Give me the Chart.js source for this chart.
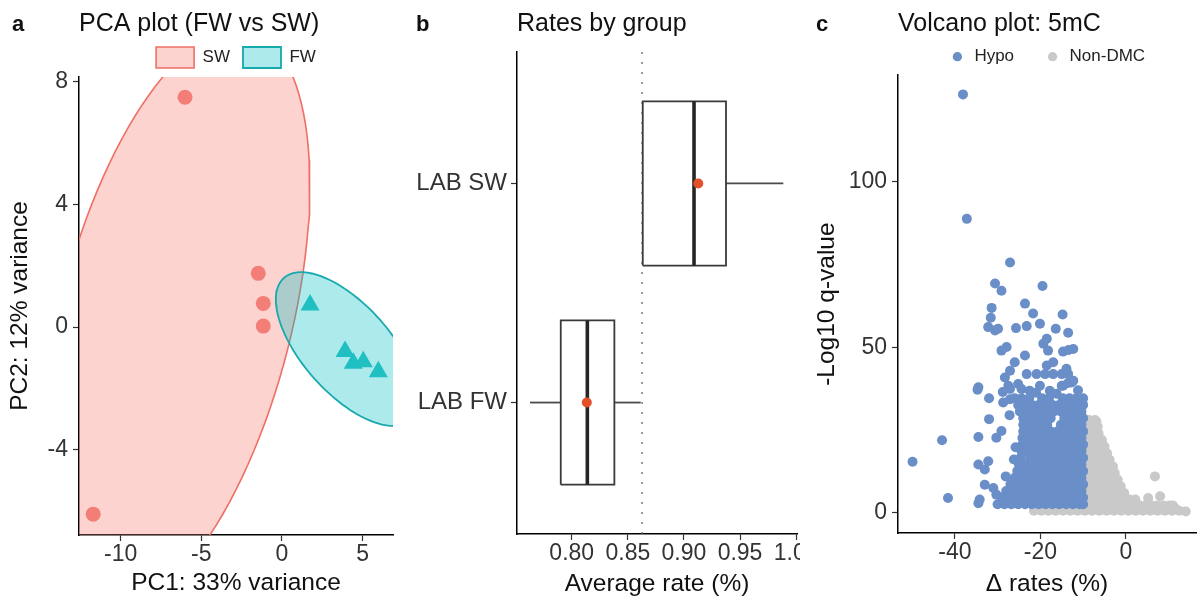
<!DOCTYPE html>
<html>
<head>
<meta charset="utf-8">
<script src="https://cdn.jsdelivr.net/npm/chart.js@4.4.1/dist/chart.umd.min.js"></script>
<style>
  html, body { margin: 0; padding: 0; background: #fff; }
  body { width: 1198px; height: 599px; position: relative; overflow: hidden; font-family: 'Liberation Sans', Arial, sans-serif; }
  .panel { position: absolute; top: 0; height: 599px; overflow: hidden; }
  .panel canvas { display: block; }
  .tag { position: absolute; top: 13px; font-size: 22px; line-height: 22px; font-weight: bold; color: #111; }
</style>
</head>
<body>
<div class="panel" style="left:0;width:400px"><canvas id="pca" width="400" height="599"></canvas></div>
<div class="panel" style="left:400px;width:400px"><canvas id="box" width="430" height="599"></canvas></div>
<div class="panel" style="left:800px;width:398px"><canvas id="volcano" width="398" height="599"></canvas></div>
<div class="tag" style="left:12px">a</div>
<div class="tag" style="left:416px">b</div>
<div class="tag" style="left:816px">c</div>

<script>
// ---- panel a: PCA ----
const swPC1 = [-6.01, -1.47, -1.16, -1.16, -11.70];
const swPC2 = [7.49, 1.75, 0.77, 0.03, -6.10];
const fwPC1 = [1.74, 3.91, 4.42, 5.04, 5.97];
const fwPC2 = [0.72, -0.80, -1.18, -1.13, -1.46];
// ellipse: centre + two conjugate half-axes (data units)
const swEllipseCenter = [-6.59, 0.21];
const swEllipseAxes = [[4.575, 9.449], [6.944, -0.929]];
const fwEllipseCenter = [4.03, -0.717];
const fwEllipseAxes = [[3.912, -2.315], [2.040, 0.955]];
const pcaXTicks = [-10, -5, 0, 5];
const pcaYTicks = [-4, 0, 4, 8];

// ---- panel b: box plot ----
const boxGroups = ['LAB FW', 'LAB SW'];
const boxLow = [0.7628, 0.8633];
const boxQ1 = [0.7902, 0.8633];
const boxMedian = [0.8139, 0.9090];
const boxQ3 = [0.8380, 0.9375];
const boxHigh = [0.8615, 0.9886];
const boxMean = [0.8134, 0.9128];
const boxRefLine = 0.8627;
const boxXTicks = [0.80, 0.85, 0.90, 0.95, 1.00];

// ---- panel c: volcano ----
const hypoScatter = [
  [-38.1,126.4],[-37.2,88.8],
  [-27.1,75.6],[-30.6,69.3],[-29.1,67.1],[-19.5,68.5],
  [-31.4,61.9],[-23.6,63.2],[-21.7,60.2],[-14.8,59.9],[-31.6,58.9],
  [-32.2,56.1],[-30.6,55.1],[-29.9,55.6],[-25.7,55.8],[-23.2,56.4],[-20.1,57.1],[-16.4,55.6],[-13.5,54.4],
  [-18.5,52.6],[-19.3,51.1],[-27.9,50.1],[-29.1,49.0],[-23.6,47.5],[-18.2,49.0],[-14.7,48.7],[-12.3,49.5],[-13.4,49.2],
  [-26.0,45.5],[-27.1,42.9],[-28.3,40.9],[-18.5,44.5],[-17.0,45.5],[-13.9,43.5],
  [-23.2,41.9],[-20.9,41.9],[-18.9,41.9],[-17.0,41.9],[-15.0,41.9],[-13.5,41.9],
  [-12.3,39.9],[-15.0,38.4],[-13.5,39.2],[-34.5,37.9],[-27.5,38.4],[-25.2,38.9],
  [-34.7,37.2],[-32.0,34.6],[-28.8,36.5],[-27.1,37.4],[-24.4,37.4],[-22.5,36.9],[-20.1,38.4],[-17.8,36.9],[-14.7,38.4],[-12.7,39.4],[-11.2,37.0],
  [-28.7,33.3],[-27.1,34.3],[-32.0,28.3],[-29.1,24.7],[-30.3,22.7],[-34.5,22.9],[-43.0,21.9],[-49.9,15.4],
  [-34.5,14.6],[-32.2,15.6],[-33.0,13.1],[-28.1,11.0],[-33.0,8.5],[-31.0,7.5],[-30.3,5.5],[-41.6,4.5],[-34.5,2.9],[-34.2,4.0],
  [-27.2,29.5],[-26.2,16.1],[-25.8,19.8],[-21.0,36.3],[-16.2,36.0]
];
// dense core of the hypo cloud, one row per -log10 q level
const hypoRows = [
  [34.6, [-26.0,-24.4,-22.6,-19.6,-18.0,-14.8,-13.2,-11.6,-10.0]],
  [32.6, [-25.2,-23.6,-22.0,-20.4,-18.8,-17.2,-15.6,-14.0,-12.4,-10.8,-10.0]],
  [30.6, [-24.8,-23.2,-21.6,-20.0,-18.4,-16.8,-15.2,-13.6,-12.0,-10.4]],
  [28.6, [-24.0,-22.4,-20.8,-19.2,-17.6,-14.4,-12.8,-11.2,-10.0]],
  [26.6, [-24.0,-22.4,-20.8,-19.2,-18.4,-15.2,-13.6,-12.0,-10.4]],
  [24.6, [-24.0,-22.4,-20.8,-19.2,-17.6,-16.0,-14.4,-12.8,-11.2,-10.0]],
  [22.6, [-24.2,-23.2,-21.6,-20.0,-18.4,-16.8,-15.2,-13.6,-12.0,-10.4]],
  [20.6, [-24.2,-22.4,-20.8,-19.2,-17.6,-16.0,-14.4,-12.8,-11.2,-10.0]],
  [18.6, [-24.4,-23.2,-21.6,-20.0,-18.4,-16.8,-15.2,-13.6,-12.0,-10.4]],
  [16.6, [-24.6,-22.4,-20.8,-19.2,-17.6,-16.0,-14.4,-12.8,-11.2,-10.0]],
  [14.6, [-25.0,-23.2,-21.6,-20.0,-18.4,-16.8,-15.2,-13.6,-12.0,-10.4]],
  [12.6, [-25.4,-24.0,-22.4,-20.8,-19.2,-17.6,-16.0,-14.4,-12.8,-11.2,-10.0]],
  [10.6, [-26.0,-24.8,-23.2,-21.6,-20.0,-18.4,-16.8,-15.2,-13.6,-12.0,-10.4]],
  [8.6,  [-27.0,-25.6,-24.0,-22.4,-20.8,-19.2,-17.6,-16.0,-14.4,-12.8,-11.2,-10.0]],
  [6.6,  [-28.0,-26.4,-24.8,-23.2,-21.6,-20.0,-18.4,-16.8,-15.2,-13.6,-12.0,-10.4]],
  [4.6,  [-29.0,-27.2,-25.6,-24.0,-22.4,-20.8,-19.2,-17.6,-16.0,-14.4,-12.8,-11.2,-10.0]],
  [2.6,  [-30.0,-28.4,-26.8,-25.2,-23.6,-22.0,-20.4,-18.8,-17.2,-15.6,-14.0,-12.4,-10.8,-10.0]]
];
const nonDmcScatter = [[6.8,11.0],[5.2,4.5],[8.0,5.0],[11.5,1.4],[14.0,0.4],[-6.9,27.6]];
const nonDmcRows = [
  [28.0, [-8.6,-7.2]],
  [26.0, [-9.4,-8.0,-6.6]],
  [24.0, [-8.8,-7.4,-6.4]],
  [22.0, [-9.4,-8.0,-6.6,-5.6]],
  [20.0, [-8.8,-7.4,-6.0,-5.0]],
  [18.0, [-9.4,-8.0,-6.6,-5.2,-4.4]],
  [16.0, [-8.8,-7.4,-6.0,-4.6,-3.8]],
  [14.0, [-9.4,-8.0,-6.6,-5.2,-3.8,-3.0]],
  [12.0, [-8.8,-7.4,-6.0,-4.6,-3.2,-2.6]],
  [10.0, [-9.4,-8.0,-6.6,-5.2,-3.8,-2.4,-1.9]],
  [8.0,  [-8.8,-7.4,-6.0,-4.6,-3.2,-1.8,-1.2]],
  [6.0,  [-9.4,-8.0,-6.6,-5.2,-3.8,-2.4,-1.0,-0.4]],
  [4.0,  [-8.8,-7.4,-6.0,-4.6,-3.2,-1.8,-0.4,0.8,2.2]],
  [2.2,  [-9.4,-8.0,-6.6,-5.2,-3.8,-2.4,-1.0,0.4,1.8,3.2,4.6,6.0,7.4,8.8,10.2,11.0]],
  [0.6,  [-21.5,-19.8,-18.1,-16.4,-14.7,-13.0,-11.3,-9.6,-7.9,-6.2,-4.5,-2.8,-1.1,0.6,2.3,4.0,5.7,7.4,9.1,10.8,12.5]]
];
const volcXTicks = [-40, -20, 0];
const volcYTicks = [0, 50, 100];

// ---------------------------------------------------------------
Chart.defaults.font.family = "'Liberation Sans', Arial, sans-serif";
Chart.defaults.color = '#333';

const BASE = { responsive: false, animation: false, devicePixelRatio: 1, events: [] };

function axis(o) {
  return {
    type: 'linear',
    min: o.min,
    max: o.max,
    afterBuildTicks: s => { s.ticks = o.ticks.map(v => ({ value: v })); },
    afterFit: s => {
      if (o.width != null) s.width = o.width;
      if (o.height != null) s.height = o.height;
    },
    border: { display: true, color: '#000', width: 1.5 },
    grid: { display: true, drawOnChartArea: false, drawTicks: true, tickLength: 6, tickWidth: 1.2, tickColor: '#333' },
    ticks: {
      color: '#333', padding: o.tickPad, autoSkip: false, maxRotation: 0,
      font: { size: o.tickSize || 23, lineHeight: 1 },
      callback: o.fmt || (v => String(v))
    },
    title: o.title
      ? { display: true, text: o.title, color: '#111', font: { size: 24.5 }, padding: o.titlePad }
      : { display: false }
  };
}

function panelTitle(text, pad) {
  return { display: true, text: text, align: 'start', fullSize: false, color: '#111',
           font: { size: 25, weight: 'normal', lineHeight: 1.1 }, padding: pad };
}

function ellipsePoints(center, axes) {
  const pts = [];
  for (let i = 0; i <= 120; i++) {
    const t = 2 * Math.PI * i / 120;
    pts.push({
      x: center[0] + axes[0][0] * Math.cos(t) + axes[1][0] * Math.sin(t),
      y: center[1] + axes[0][1] * Math.cos(t) + axes[1][1] * Math.sin(t)
    });
  }
  return pts;
}

const zipXY = (xs, ys) => xs.map((x, i) => ({ x: x, y: ys[i] }));
const pairs = list => list.map(p => ({ x: p[0], y: p[1] }));
const rows = list => list.flatMap(r => r[1].map(x => ({ x: x, y: r[0] })));

// ---- panel a ----
new Chart(document.getElementById('pca'), {
  type: 'scatter',
  data: {
    datasets: [
      { label: 'SW points', data: zipXY(swPC1, swPC2), backgroundColor: '#F37E77',
        pointRadius: 7.5, pointBorderWidth: 0, borderWidth: 0 },
      { label: 'FW points', data: zipXY(fwPC1, fwPC2), backgroundColor: '#1FBFC2',
        pointStyle: 'triangle', pointRadius: 11, pointBorderWidth: 0, borderWidth: 0 },
      { label: 'FW', data: ellipsePoints(fwEllipseCenter, fwEllipseAxes), showLine: true, fill: 'shape',
        backgroundColor: 'rgba(0,191,196,0.32)', borderColor: '#16A9AD', borderWidth: 1.8,
        pointRadius: 0, tension: 0 },
      { label: 'SW', data: ellipsePoints(swEllipseCenter, swEllipseAxes), showLine: true, fill: 'shape',
        backgroundColor: 'rgba(248,118,109,0.32)', borderColor: '#EE6F66', borderWidth: 1.6,
        pointRadius: 0, tension: 0 }
    ]
  },
  options: Object.assign({}, BASE, {
    layout: { autoPadding: false, padding: { left: 0, right: 7, top: 0, bottom: 0 } },
    scales: {
      x: axis({ min: -12.58, max: 6.88, ticks: pcaXTicks, height: 64, tickPad: 2,
                title: 'PC1: 33% variance', titlePad: { top: 0, bottom: 1.3 } }),
      y: axis({ min: -6.78, max: 8.15, ticks: pcaYTicks, width: 79, tickPad: 5,
                title: 'PC2: 12% variance', titlePad: { top: 5.3, bottom: 0 } })
    },
    plugins: {
      title: panelTitle('PCA plot (FW vs SW)', { top: 10.8, bottom: -4.3 }),
      legend: {
        position: 'top', fullSize: false, align: 'center', maxHeight: 43,
        labels: {
          boxWidth: 38, boxHeight: 21, padding: 13, color: '#222', font: { size: 17 },
          filter: item => item.text === 'SW' || item.text === 'FW',
          sort: (a, b) => b.datasetIndex - a.datasetIndex
        }
      },
      tooltip: { enabled: false }
    }
  })
});

// ---- panel b ----
const boxDatasets = [];
const HALF = 0.375;
boxDatasets.push({ data: boxMean.map((m, i) => ({ x: m, y: i + 1 })), backgroundColor: '#E4502C',
                   pointRadius: 5, pointBorderWidth: 0, borderWidth: 0 });
boxGroups.forEach((g, i) => {
  const c = i + 1;
  boxDatasets.push({ data: [{ x: boxMedian[i], y: c - HALF }, { x: boxMedian[i], y: c + HALF }],
                     showLine: true, borderColor: '#262626', borderWidth: 3.6, pointRadius: 0 });
  boxDatasets.push({ data: [{ x: boxQ1[i], y: c - HALF }, { x: boxQ3[i], y: c - HALF }, { x: boxQ3[i], y: c + HALF },
                            { x: boxQ1[i], y: c + HALF }, { x: boxQ1[i], y: c - HALF }],
                     showLine: true, borderColor: '#3a3a3a', borderWidth: 1.8, pointRadius: 0,
                     borderJoinStyle: 'miter' });
  if (boxLow[i] < boxQ1[i]) {
    boxDatasets.push({ data: [{ x: boxLow[i], y: c }, { x: boxQ1[i], y: c }],
                       showLine: true, borderColor: '#4a4a4a', borderWidth: 1.8, pointRadius: 0 });
  }
  boxDatasets.push({ data: [{ x: boxQ3[i], y: c }, { x: boxHigh[i], y: c }],
                     showLine: true, borderColor: '#4a4a4a', borderWidth: 1.8, pointRadius: 0 });
});
boxDatasets.push({ data: [{ x: boxRefLine, y: 0.4 }, { x: boxRefLine, y: 2.6 }], showLine: true,
                   borderColor: '#666', borderWidth: 1.3, borderDash: [2, 8], pointRadius: 0 });

new Chart(document.getElementById('box'), {
  type: 'scatter',
  data: { datasets: boxDatasets },
  options: Object.assign({}, BASE, {
    layout: { autoPadding: false, padding: { left: 0, right: 33, top: 0, bottom: 0 } },
    scales: {
      x: axis({ min: 0.7512, max: 1.0008, ticks: boxXTicks, height: 65, tickPad: 2,
                fmt: v => v.toFixed(2), title: 'Average rate (%)', titlePad: { top: 0, bottom: 0 } }),
      y: axis({ min: 0.4, max: 2.6, ticks: [1, 2], width: 117, tickPad: 4, tickSize: 24,
                fmt: v => boxGroups[Math.round(v) - 1] })
    },
    plugins: {
      title: panelTitle('Rates by group', { top: 10.8, bottom: 13.7 }),
      legend: { display: false },
      tooltip: { enabled: false }
    }
  })
});

// ---- panel c ----
new Chart(document.getElementById('volcano'), {
  type: 'scatter',
  data: {
    datasets: [
      { label: 'Hypo', data: pairs(hypoScatter).concat(rows(hypoRows)), backgroundColor: '#6A8EC8',
        pointRadius: 5, pointBorderWidth: 0, borderWidth: 0 },
      { label: 'Non-DMC', data: rows(nonDmcRows).concat(pairs(nonDmcScatter)), backgroundColor: '#C9C9C9',
        pointRadius: 5, pointBorderWidth: 0, borderWidth: 0 }
    ]
  },
  options: Object.assign({}, BASE, {
    layout: { autoPadding: false, padding: { left: 0, right: 2, top: 0, bottom: 0 } },
    scales: {
      x: axis({ min: -53.3, max: 16.4, ticks: volcXTicks, height: 66, tickPad: 2,
                title: 'Δ rates (%)', titlePad: { top: 0, bottom: 0 } }),
      y: axis({ min: -6.1, max: 132.2, ticks: volcYTicks, width: 98, tickPad: 5,
                title: '-Log10 q-value', titlePad: { top: 12.3, bottom: 0 } })
    },
    plugins: {
      title: panelTitle('Volcano plot: 5mC', { top: 10.8, bottom: -20.1 }),
      legend: {
        position: 'top', fullSize: false, align: 'center', maxHeight: 59.8,
        labels: { usePointStyle: true, pointStyle: 'circle', boxWidth: 17, boxHeight: 6.6,
                  padding: 30, color: '#222', font: { size: 17 } }
      },
      tooltip: { enabled: false }
    }
  })
});
</script>
</body>
</html>
